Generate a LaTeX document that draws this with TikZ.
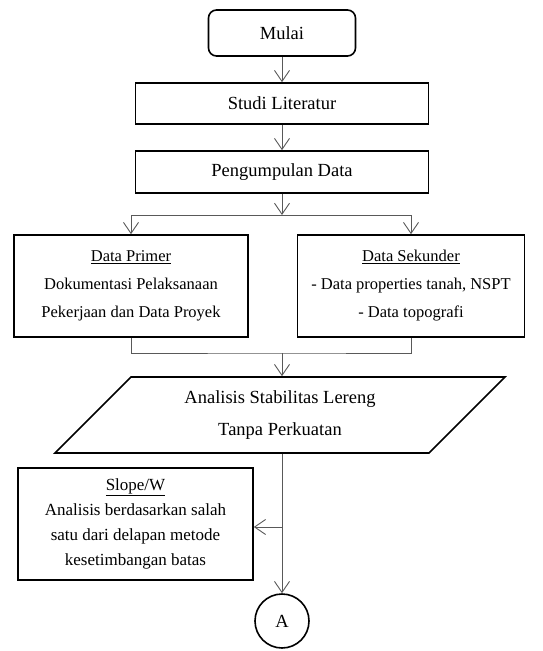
\documentclass[tikz,border=0pt]{standalone}
\usepackage{fontspec}
\setmainfont{Liberation Serif}
\usetikzlibrary{arrows.meta, shapes.geometric}

\begin{document}
\begin{tikzpicture}[x=1pt, y=-1pt,
    proses/.style={draw=black, line width=1.6pt, align=center, inner sep=0pt},
    panah/.style={-{Straight Barb[length=11pt, width=15pt]}, draw=black!65, line width=0.9pt},
    garis/.style={draw=black!65, line width=0.9pt},
    besar/.style={font=\fontsize{18.5}{32}\selectfont},
    kecil/.style={font=\fontsize{16.5}{28}\selectfont}
]
    \useasboundingbox (0,0) rectangle (543,651);

    % Mulai dan tahap awal
    \node[proses, rounded corners=8pt, minimum width=147pt, minimum height=46pt, besar] (mulai) at (282,33) {Mulai};
    \node[proses, minimum width=293pt, minimum height=41pt, besar] (studi) at (282,103.5) {Studi Literatur};
    \node[proses, minimum width=293pt, minimum height=42pt, besar] (kumpul) at (282,172) {Pengumpulan Data};

    \draw[panah] (mulai) -- (studi);
    \draw[panah] (studi) -- (kumpul);

    % Data primer dan sekunder
    \node[proses, minimum width=234pt, minimum height=102pt, kecil] (primer) at (131,286)
        {\underline{Data Primer}\\Dokumentasi Pelaksanaan\\Pekerjaan dan Data Proyek};
    \node[proses, minimum width=227pt, minimum height=102pt, kecil] (sekunder) at (411,286)
        {\underline{Data Sekunder}\\- Data properties tanah, NSPT\\- Data topografi};

    \coordinate (bagi) at (282,215);
    \draw[panah] (kumpul) -- (bagi);
    \draw[garis] (bagi -| primer) -- (bagi -| sekunder);
    \draw[panah] (bagi -| primer) -- (primer);
    \draw[panah] (bagi -| sekunder) -- (sekunder);

    % Analisis tanpa perkuatan
    \node[proses, trapezium, trapezium left angle=45, trapezium right angle=135,
          minimum width=386pt, minimum height=76pt, besar] (analisis) at (280,415)
        {Analisis Stabilitas Lereng\\Tanpa Perkuatan};

    \coordinate (gabung) at (282,353);
    \draw[garis] (primer) |- (gabung) -| (sekunder);
    \draw[panah] (gabung) -- (gabung |- analisis.north);

    % Slope/W dan konektor
    \node[proses, minimum width=235pt, minimum height=112pt, font=\fontsize{17}{25}\selectfont] (slope) at (135.5,524)
        {\underline{Slope/W}\\Analisis berdasarkan salah\\satu dari delapan metode\\kesetimbangan batas};
    \node[circle, draw=black, line width=1.6pt, minimum size=54pt, inner sep=0pt, besar] (konektor) at (282,621) {A};

    \coordinate (cabang) at (282,527);
    \draw[panah] (konektor |- analisis.south) -- (konektor);
    \draw[panah] (cabang) -- (cabang -| slope.east);

\end{tikzpicture}
\end{document}
